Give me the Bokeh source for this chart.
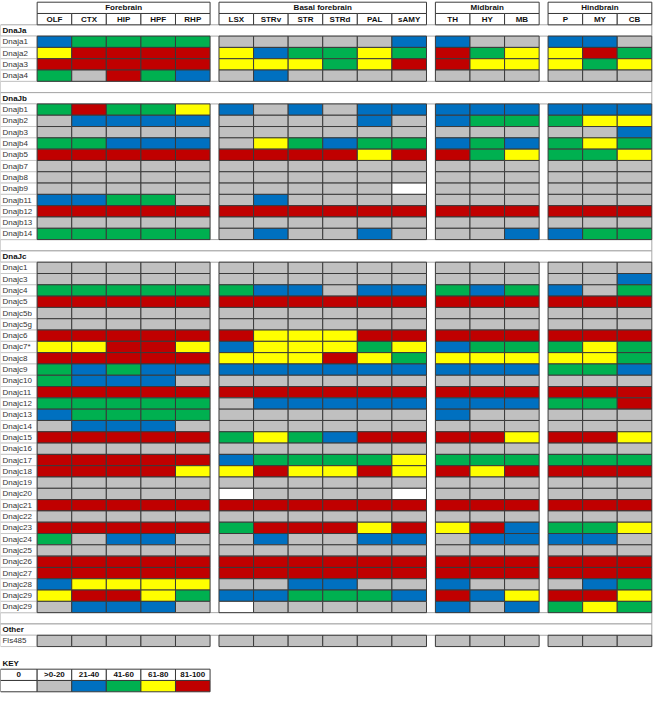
from bokeh.plotting import figure
from bokeh.models import Range1d, ColumnDataSource
from bokeh.core.properties import value
from bokeh.embed import file_html
from bokeh.resources import INLINE

# ---------------- data ----------------
regions = ["Forebrain", "Basal forebrain", "Midbrain", "Hindbrain"]
region_sizes = [5, 6, 3, 3]
areas = ["OLF", "CTX", "HIP", "HPF", "RHP",
         "LSX", "STRv", "STR", "STRd", "PAL", "sAMY",
         "TH", "HY", "MB",
         "P", "MY", "CB"]

# expression level classes: 0 = "0", 1 = ">0-20", 2 = "21-40", 3 = "41-60", 4 = "61-80", 5 = "81-100"
key_labels = ["0", ">0-20", "21-40", "41-60", "61-80", "81-100"]
level_colors = ["#FFFFFF", "#C0C0C0", "#0070C0", "#00B050", "#FFFF00", "#C00000"]

dnaja_genes = ["Dnaja1", "Dnaja2", "Dnaja3", "Dnaja4"]
dnaja_levels = [
    [2, 3, 3, 3, 3, 1, 1, 1, 1, 1, 2, 2, 1, 1, 2, 2, 1],
    [4, 5, 5, 5, 5, 4, 2, 3, 3, 4, 3, 5, 3, 4, 4, 5, 3],
    [5, 5, 5, 5, 5, 4, 4, 4, 3, 4, 5, 5, 4, 4, 4, 3, 4],
    [3, 1, 5, 3, 2, 1, 2, 1, 1, 1, 1, 1, 1, 1, 1, 1, 1],
]

dnajb_genes = ["Dnajb1", "Dnajb2", "Dnajb3", "Dnajb4", "Dnajb5", "Dnajb7",
               "Dnajb8", "Dnajb9", "Dnajb11", "Dnajb12", "Dnajb13", "Dnajb14"]
dnajb_levels = [
    [3, 5, 3, 3, 4, 2, 1, 2, 1, 2, 2, 2, 2, 2, 2, 2, 2],
    [1, 2, 2, 2, 2, 1, 1, 1, 1, 2, 1, 2, 3, 3, 3, 4, 4],
    [1, 1, 1, 1, 1, 1, 1, 1, 1, 1, 1, 1, 1, 1, 1, 1, 2],
    [3, 3, 2, 2, 2, 1, 4, 3, 2, 3, 3, 2, 3, 2, 3, 4, 3],
    [5, 5, 5, 5, 5, 5, 5, 5, 5, 4, 5, 5, 3, 4, 3, 3, 4],
    [1, 1, 1, 1, 1, 1, 1, 1, 1, 1, 1, 1, 1, 1, 1, 1, 1],
    [1, 1, 1, 1, 1, 1, 1, 1, 1, 1, 1, 1, 1, 1, 1, 1, 1],
    [1, 1, 1, 1, 1, 1, 1, 1, 1, 1, 0, 1, 1, 1, 1, 1, 1],
    [2, 2, 3, 3, 1, 1, 2, 1, 1, 1, 1, 1, 1, 1, 1, 1, 1],
    [5, 5, 5, 5, 5, 5, 5, 5, 5, 5, 5, 5, 5, 5, 5, 5, 5],
    [1, 1, 1, 1, 1, 1, 1, 1, 1, 1, 1, 1, 1, 1, 1, 1, 1],
    [3, 3, 3, 3, 3, 1, 2, 1, 1, 2, 1, 1, 1, 2, 2, 3, 3],
]

dnajc_genes = ["Dnajc1", "Dnajc3", "Dnajc4", "Dnajc5", "Dnajc5b", "Dnajc5g",
               "Dnajc6", "Dnajc7*", "Dnajc8", "Dnajc9", "Dnajc10", "Dnajc11",
               "Dnajc12", "Dnajc13", "Dnajc14", "Dnajc15", "Dnajc16", "Dnajc17",
               "Dnajc18", "Dnajc19", "Dnajc20", "Dnajc21", "Dnajc22", "Dnajc23",
               "Dnajc24", "Dnajc25", "Dnajc26", "Dnajc27", "Dnajc28", "Dnajc29",
               "Dnajc29"]
dnajc_levels = [
    [1, 1, 1, 1, 1, 1, 1, 1, 1, 1, 1, 1, 1, 1, 1, 1, 1],
    [1, 1, 1, 1, 1, 1, 1, 1, 1, 1, 1, 1, 1, 1, 1, 1, 2],
    [3, 3, 3, 3, 3, 3, 2, 2, 1, 2, 2, 3, 2, 3, 2, 1, 3],
    [5, 5, 5, 5, 5, 5, 5, 5, 5, 5, 5, 5, 5, 5, 5, 5, 5],
    [1, 1, 1, 1, 1, 1, 1, 1, 1, 1, 1, 1, 1, 1, 1, 1, 1],
    [1, 1, 1, 1, 1, 1, 1, 1, 1, 1, 1, 1, 1, 1, 1, 1, 1],
    [5, 5, 5, 5, 5, 5, 4, 4, 4, 5, 5, 5, 5, 5, 5, 5, 5],
    [4, 4, 5, 5, 4, 2, 4, 4, 4, 3, 4, 2, 3, 3, 3, 4, 3],
    [5, 5, 5, 5, 5, 4, 4, 4, 5, 4, 3, 4, 4, 4, 4, 4, 3],
    [3, 2, 3, 2, 2, 2, 2, 2, 2, 2, 2, 2, 2, 2, 3, 3, 2],
    [3, 2, 2, 2, 1, 1, 1, 1, 1, 1, 1, 1, 1, 1, 1, 1, 1],
    [5, 5, 5, 5, 5, 5, 5, 5, 5, 5, 5, 5, 5, 5, 5, 5, 5],
    [3, 3, 3, 3, 3, 1, 2, 2, 2, 2, 2, 2, 2, 2, 3, 3, 5],
    [2, 3, 3, 3, 3, 1, 1, 1, 1, 1, 1, 2, 1, 1, 1, 1, 1],
    [1, 2, 2, 2, 1, 1, 1, 1, 1, 1, 1, 1, 1, 1, 1, 1, 1],
    [5, 5, 5, 5, 5, 3, 4, 3, 2, 5, 5, 5, 5, 4, 5, 5, 4],
    [1, 1, 1, 1, 1, 1, 1, 1, 1, 1, 1, 1, 1, 1, 1, 1, 1],
    [5, 5, 5, 5, 5, 2, 3, 3, 3, 3, 4, 3, 3, 3, 3, 3, 3],
    [5, 5, 5, 5, 4, 4, 5, 4, 4, 5, 4, 5, 4, 5, 5, 5, 5],
    [1, 1, 1, 1, 1, 1, 1, 1, 1, 1, 1, 1, 1, 1, 1, 1, 1],
    [1, 1, 1, 1, 1, 0, 1, 1, 1, 1, 0, 1, 1, 1, 1, 1, 1],
    [5, 5, 5, 5, 5, 5, 5, 5, 5, 5, 5, 5, 5, 5, 5, 5, 5],
    [1, 1, 1, 1, 1, 1, 1, 1, 1, 1, 1, 1, 1, 1, 1, 1, 1],
    [5, 5, 5, 5, 5, 3, 5, 5, 5, 4, 5, 4, 5, 2, 3, 3, 4],
    [3, 1, 2, 2, 1, 1, 2, 1, 1, 2, 2, 1, 2, 2, 2, 2, 1],
    [1, 1, 1, 1, 1, 1, 1, 1, 1, 1, 1, 1, 1, 1, 1, 1, 1],
    [5, 5, 5, 5, 5, 5, 5, 5, 5, 5, 5, 5, 5, 5, 5, 5, 5],
    [5, 5, 5, 5, 5, 5, 5, 5, 5, 5, 5, 5, 5, 5, 5, 5, 5],
    [2, 4, 4, 4, 4, 1, 1, 2, 2, 1, 1, 2, 1, 1, 1, 2, 3],
    [4, 5, 5, 4, 3, 2, 2, 3, 3, 3, 2, 5, 2, 4, 5, 5, 4],
    [1, 2, 2, 2, 1, 0, 1, 1, 1, 1, 1, 2, 1, 2, 3, 4, 3],
]

other_genes = ["Fls485"]
other_levels = [
    [1, 1, 1, 1, 1, 1, 1, 1, 1, 1, 1, 1, 1, 1, 1, 1, 1],
]

sections = [("DnaJa", dnaja_genes, dnaja_levels),
            ("DnaJb", dnajb_genes, dnajb_levels),
            ("DnaJc", dnajc_genes, dnajc_levels),
            ("Other", other_genes, other_levels)]

# ---------------- layout ----------------
LABEL_W = 37.0
COL_W = 34.9
GAP = 9.0
Y0 = 3.2
RH = 11.37
DARK = "#3a3a3a"
LIGHT = "#a8a8a8"
FONT = value("Liberation Sans")

col_left = []
region_span = []
x = LABEL_W
for n in region_sizes:
    start = x
    for _ in range(n):
        col_left.append(x)
        x += COL_W
    region_span.append((start, x))
    x += GAP
RIGHT = region_span[-1][1]


def row_top(r):
    return Y0 + r * RH


p = figure(width=653, height=694, x_range=Range1d(0, 659), y_range=Range1d(699.5, 1.5),
           output_backend="svg", toolbar_location=None, min_border=0,
           outline_line_color=None, background_fill_color="white",
           border_fill_color="white")
p.axis.visible = False
p.grid.visible = False

band = dict(left=[], right=[], top=[], bottom=[])
labcell = dict(left=[], right=[], top=[], bottom=[])
cells = dict(left=[], right=[], top=[], bottom=[], color=[])
head = dict(left=[], right=[], top=[], bottom=[])
sec_txt = dict(x=[], y=[], t=[])
gene_txt = dict(x=[], y=[], t=[])
head_txt = dict(x=[], y=[], t=[])

# header rows
for name, (a, b) in zip(regions, region_span):
    head["left"].append(a); head["right"].append(b)
    head["top"].append(row_top(0)); head["bottom"].append(row_top(1))
    head_txt["x"].append((a + b) / 2); head_txt["y"].append(row_top(0) + RH / 2)
    head_txt["t"].append(name)
for name, a in zip(areas, col_left):
    head["left"].append(a); head["right"].append(a + COL_W)
    head["top"].append(row_top(1)); head["bottom"].append(row_top(2))
    head_txt["x"].append(a + COL_W / 2); head_txt["y"].append(row_top(1) + RH / 2)
    head_txt["t"].append(name)

r = 2
for si, (sec, genes, levels) in enumerate(sections):
    if si > 0:
        band["left"].append(0); band["right"].append(RIGHT)
        band["top"].append(row_top(r)); band["bottom"].append(row_top(r + 1))
        r += 1
    band["left"].append(0); band["right"].append(RIGHT)
    band["top"].append(row_top(r)); band["bottom"].append(row_top(r + 1))
    sec_txt["x"].append(2); sec_txt["y"].append(row_top(r) + RH / 2); sec_txt["t"].append(sec)
    r += 1
    for g, lv in zip(genes, levels):
        labcell["left"].append(0); labcell["right"].append(LABEL_W)
        labcell["top"].append(row_top(r)); labcell["bottom"].append(row_top(r + 1))
        gene_txt["x"].append(2); gene_txt["y"].append(row_top(r) + RH / 2); gene_txt["t"].append(g)
        for a, v in zip(col_left, lv):
            cells["left"].append(a); cells["right"].append(a + COL_W)
            cells["top"].append(row_top(r)); cells["bottom"].append(row_top(r + 1))
            cells["color"].append(level_colors[v])
        r += 1

# key
r += 1
key_row = r
key_head = dict(left=[], right=[], top=[], bottom=[])
key_cells = dict(left=[], right=[], top=[], bottom=[], color=[])
key_txt = dict(x=[], y=[], t=[])
for i, lab in enumerate(key_labels):
    a = 0 if i == 0 else LABEL_W + (i - 1) * COL_W
    b = LABEL_W + i * COL_W
    key_head["left"].append(a); key_head["right"].append(b)
    key_head["top"].append(row_top(key_row + 1)); key_head["bottom"].append(row_top(key_row + 2))
    key_cells["left"].append(a); key_cells["right"].append(b)
    key_cells["top"].append(row_top(key_row + 2)); key_cells["bottom"].append(row_top(key_row + 3))
    key_cells["color"].append(level_colors[i])
    key_txt["x"].append((a + b) / 2); key_txt["y"].append(row_top(key_row + 1) + RH / 2)
    key_txt["t"].append(lab)

p.quad(left="left", right="right", top="top", bottom="bottom", source=ColumnDataSource(band),
       fill_color="white", line_color=LIGHT, line_width=1)
p.quad(left="left", right="right", top="top", bottom="bottom", source=ColumnDataSource(labcell),
       fill_color="white", line_color="#c8c8c8", line_width=1)
p.quad(left="left", right="right", top="top", bottom="bottom", source=ColumnDataSource(cells),
       fill_color="color", line_color=DARK, line_width=1)
p.quad(left="left", right="right", top="top", bottom="bottom", source=ColumnDataSource(head),
       fill_color="white", line_color=DARK, line_width=1)
p.quad(left="left", right="right", top="top", bottom="bottom", source=ColumnDataSource(key_head),
       fill_color="white", line_color=DARK, line_width=1)
p.quad(left="left", right="right", top="top", bottom="bottom", source=ColumnDataSource(key_cells),
       fill_color="color", line_color=DARK, line_width=1)

p.text(x="x", y="y", text="t", source=ColumnDataSource(head_txt), text_font=FONT,
       text_font_style="bold", text_font_size="8px", text_align="center",
       text_baseline="middle", text_color="#111111")
p.text(x="x", y="y", text="t", source=ColumnDataSource(sec_txt), text_font=FONT,
       text_font_style="bold", text_font_size="8px", text_align="left",
       text_baseline="middle", text_color="#111111")
p.text(x="x", y="y", text="t", source=ColumnDataSource(gene_txt), text_font=FONT,
       text_font_size="8px", text_align="left", text_baseline="middle", text_color="#333333")
p.text(x="x", y="y", text="t", source=ColumnDataSource(key_txt), text_font=FONT,
       text_font_style="bold", text_font_size="8px", text_align="center",
       text_baseline="middle", text_color="#111111")
p.text(x=[2], y=[row_top(key_row) + RH / 2], text=["KEY"], text_font=FONT,
       text_font_style="bold", text_font_size="8px", text_align="left",
       text_baseline="middle", text_color="#111111")

open("out.html", "w").write(file_html(p, INLINE))
